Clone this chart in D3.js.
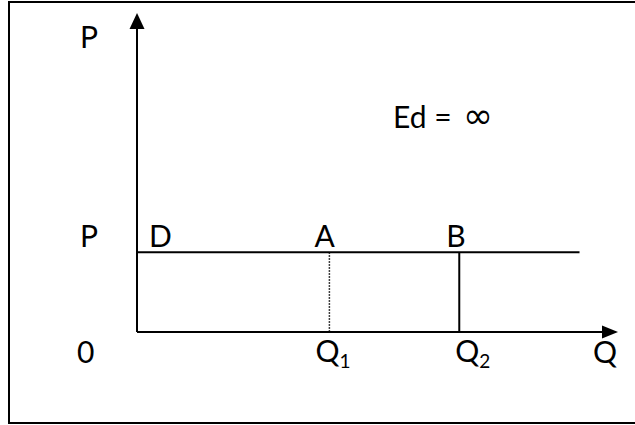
<!DOCTYPE html>
<html>
<head>
<meta charset="utf-8">
<script src="https://cdn.jsdelivr.net/npm/d3@7"></script>
<style>
  body { margin: 0; background: #fff; }
  text { font-family: Lato, "Open Sans", sans-serif; fill: #000; }
</style>
</head>
<body>
<div id="chart-area"></div>
<script>
// values (axis units 0..100)
var priceLevel = [25];
var quantities = [40, 67];
var quantityNames = ["1", "2"];
var pointNames = ["A", "B"];
var demandEnd = [92];

var width = 635, height = 425;

var svg = d3.select("#chart-area")
    .append("svg")
        .attr("width", width)
        .attr("height", height);

// frame
svg.append("rect")
    .attr("x", 9)
    .attr("y", 2)
    .attr("width", 640)
    .attr("height", 421)
    .attr("fill", "none")
    .attr("stroke", "#000")
    .attr("stroke-width", 2);

var x = d3.scaleLinear()
    .domain([0, 100])
    .range([137, 618]);

var y = d3.scaleLinear()
    .domain([0, 100])
    .range([332, 13]);

// axes
svg.append("line")
    .attr("x1", x(0)).attr("y1", y(0))
    .attr("x2", x(0)).attr("y2", y(100) + 10)
    .attr("stroke", "#000").attr("stroke-width", 2);

svg.append("line")
    .attr("x1", x(0)).attr("y1", y(0))
    .attr("x2", x(100) - 10).attr("y2", y(0))
    .attr("stroke", "#000").attr("stroke-width", 2);

// arrow heads
svg.append("path")
    .attr("d", "M" + x(0) + "," + y(100) +
        "L" + (x(0) - 7.5) + "," + (y(100) + 16) +
        "L" + (x(0) + 7.5) + "," + (y(100) + 16) + "Z")
    .attr("fill", "#000");

svg.append("path")
    .attr("d", "M" + x(100) + "," + y(0) +
        "L" + (x(100) - 16) + "," + (y(0) - 6.5) +
        "L" + (x(100) - 16) + "," + (y(0) + 6.5) + "Z")
    .attr("fill", "#000");

// demand curve (perfectly elastic)
svg.append("line")
    .attr("x1", x(0)).attr("y1", y(priceLevel[0]))
    .attr("x2", x(demandEnd[0])).attr("y2", y(priceLevel[0]))
    .attr("stroke", "#000").attr("stroke-width", 2);

// drop lines
svg.selectAll(".drop")
    .data(quantities)
    .enter()
    .append("line")
        .attr("class", "drop")
        .attr("x1", (d) => x(d)).attr("y1", y(priceLevel[0]))
        .attr("x2", (d) => x(d)).attr("y2", y(0))
        .attr("stroke", "#000")
        .attr("stroke-width", (d, i) => i === 0 ? 1.5 : 2)
        .attr("stroke-dasharray", (d, i) => i === 0 ? "1.5,1.5" : null);

var fs = "30px";

// axis names
svg.append("text").attr("x", 80).attr("y", 48).attr("font-size", fs).text("P");
svg.append("text").attr("x", 80).attr("y", y(priceLevel[0]) - 5).attr("font-size", fs).text("P");
svg.append("text").attr("x", 77).attr("y", 363).attr("font-size", fs).text("0");
svg.append("text").attr("x", 593).attr("y", 363).attr("font-size", fs).text("Q");
svg.append("text").attr("x", x(0) + 12).attr("y", y(priceLevel[0]) - 5).attr("font-size", fs).text("D");

// point labels
svg.selectAll(".pt")
    .data(quantities)
    .enter()
    .append("text")
        .attr("class", "pt")
        .attr("x", (d, i) => x(d) - (i === 0 ? 15 : 13))
        .attr("y", y(priceLevel[0]) - 5)
        .attr("font-size", fs)
        .text((d, i) => pointNames[i]);

// quantity labels with subscripts
var ql = svg.selectAll(".ql")
    .data(quantities)
    .enter()
    .append("text")
        .attr("class", "ql")
        .attr("x", (d, i) => x(d) - (i === 0 ? 14 : 4))
        .attr("y", 362)
        .attr("font-size", fs);

ql.append("tspan").text("Q");
ql.append("tspan")
    .attr("font-size", "19px")
    .attr("dy", 6)
    .text((d, i) => quantityNames[i]);

var ed = svg.append("text")
    .attr("x", 393)
    .attr("y", 128)
    .attr("font-size", fs);
ed.append("tspan").text("Ed =");
ed.append("tspan")
    .attr("x", 463)
    .attr("font-family", "DejaVu Sans")
    .attr("font-size", "36px")
    .text("\u221e");
</script>
</body>
</html>
